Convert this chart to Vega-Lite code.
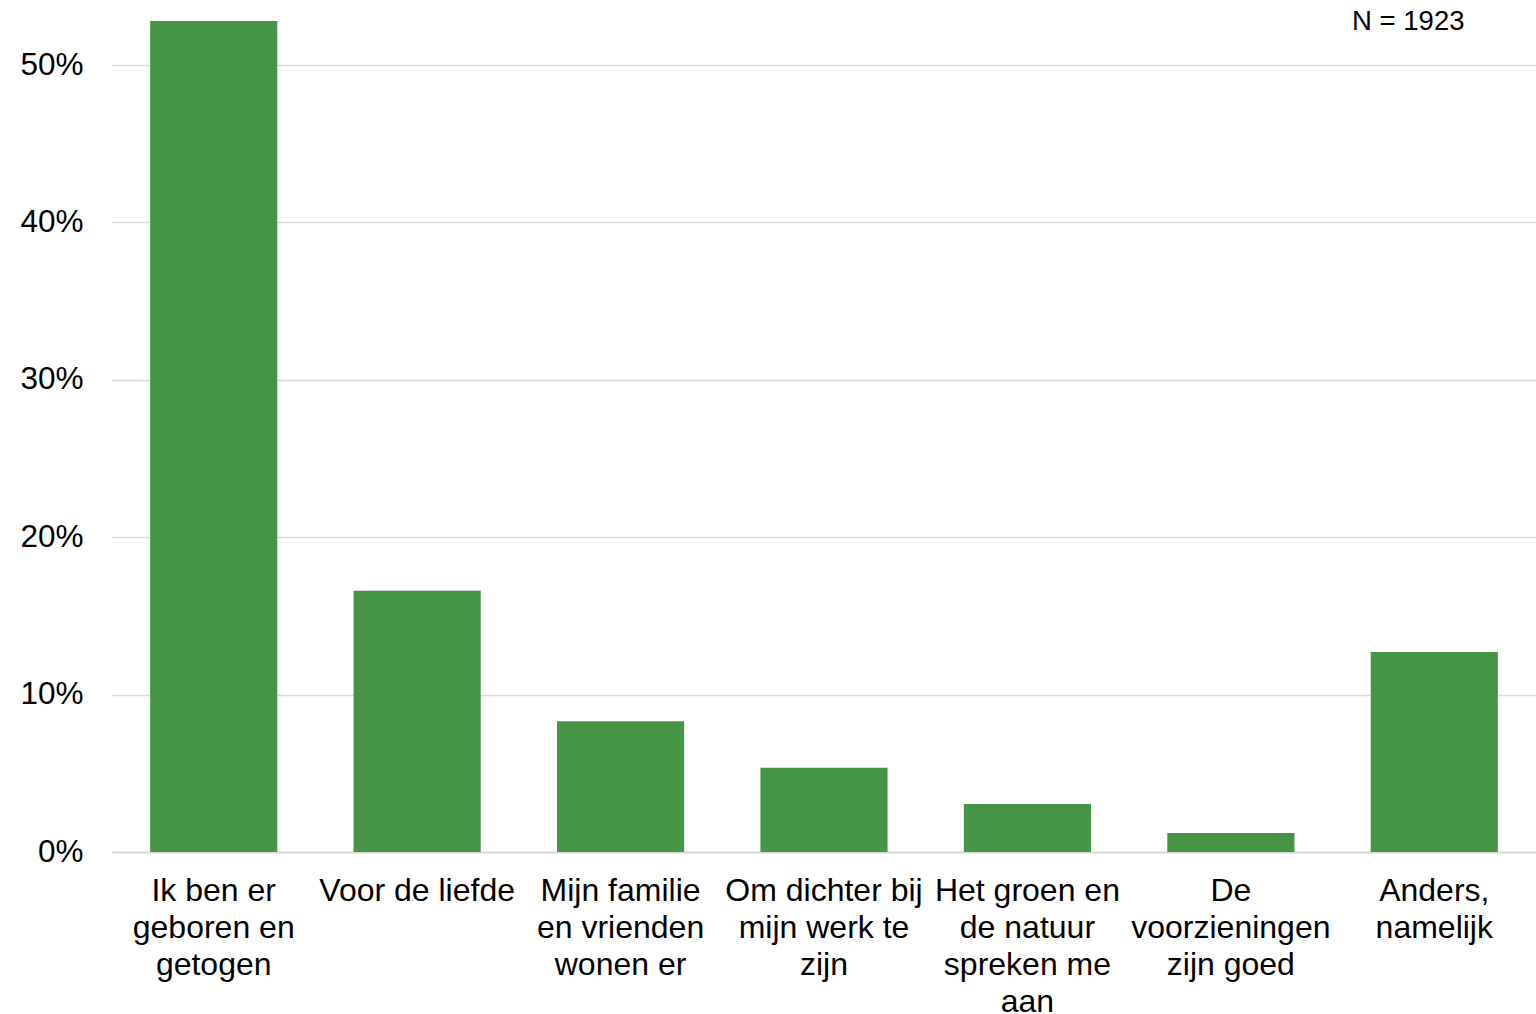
{
  "$schema": "https://vega.github.io/schema/vega-lite/v6.json",
  "width": 1424,
  "height": 852,
  "autosize": {"type": "none"},
  "padding": {"left": 112, "top": 0, "right": 0, "bottom": 162},
  "background": "white",
  "config": {
    "view": {"stroke": null},
    "font": "Liberation Sans"
  },
  "data": {
    "values": [
      {"reden": "Ik ben er|geboren en|getogen", "aandeel": 0.528},
      {"reden": "Voor de liefde", "aandeel": 0.166},
      {"reden": "Mijn familie|en vrienden|wonen er", "aandeel": 0.083},
      {"reden": "Om dichter bij|mijn werk te|zijn", "aandeel": 0.0535},
      {"reden": "Het groen en|de natuur|spreken me|aan", "aandeel": 0.0305},
      {"reden": "De|voorzieningen|zijn goed", "aandeel": 0.012},
      {"reden": "Anders,|namelijk", "aandeel": 0.127}
    ]
  },
  "layer": [
    {
      "mark": {"type": "bar", "color": "#469547"},
      "encoding": {
        "x": {
          "field": "reden",
          "type": "nominal",
          "sort": null,
          "scale": {"paddingInner": 0.375, "paddingOuter": 0.1875},
          "axis": {
            "title": null,
            "labelAngle": 0,
            "labelExpr": "split(datum.label, '|')",
            "labelFontSize": 32,
            "labelColor": "#000000",
            "labelLineHeight": 37,
            "labelBaseline": "top",
            "labelPadding": 23,
            "labelLimit": 0,
            "ticks": false,
            "domain": true,
            "domainColor": "#d9d9d9",
            "domainWidth": 2
          }
        },
        "y": {
          "field": "aandeel",
          "type": "quantitative",
          "scale": {"domain": [0, 0.5413], "nice": false, "zero": true},
          "axis": {
            "title": null,
            "format": ".0%",
            "values": [0, 0.1, 0.2, 0.3, 0.4, 0.5],
            "labelFontSize": 31.5,
            "labelColor": "#000000",
            "labelPadding": 29,
            "ticks": false,
            "domain": false,
            "grid": true,
            "gridColor": "#d9d9d9",
            "gridWidth": 1.5
          }
        }
      }
    },
    {
      "mark": {"type": "text", "fontSize": 27.5, "color": "#000000", "align": "center", "baseline": "alphabetic", "dx": -26, "font": "Liberation Sans"},
      "data": {"values": [{"label": "N = 1923"}]},
      "encoding": {
        "x": {"datum": "Anders,|namelijk", "type": "nominal"},
        "y": {"datum": 0.5222, "type": "quantitative"},
        "text": {"field": "label"}
      }
    }
  ]
}
